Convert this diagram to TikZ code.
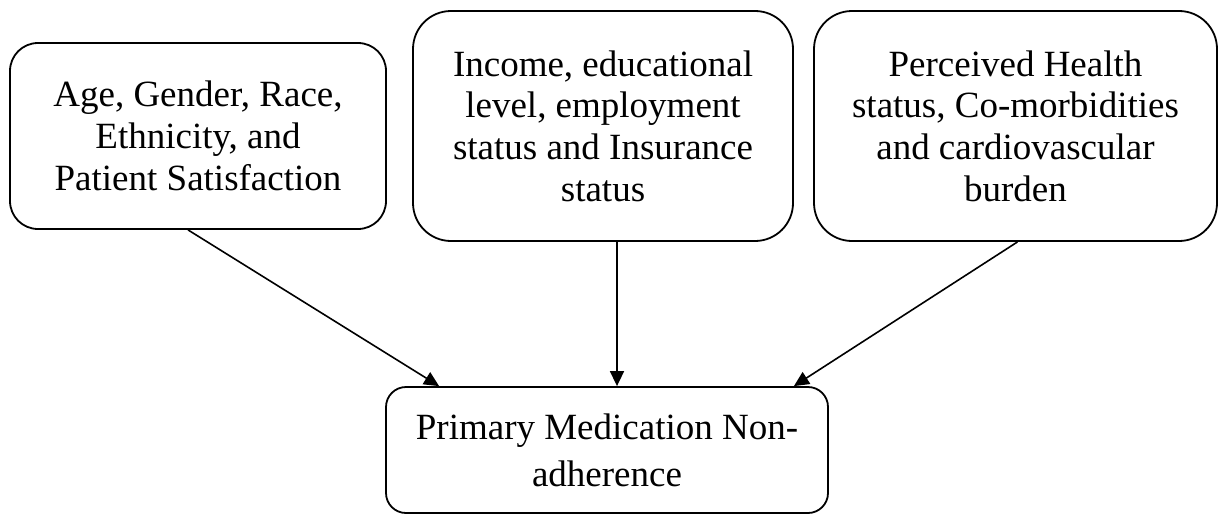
\documentclass[tikz,border=0pt]{standalone}
\usepackage{fontspec}
\setmainfont{Liberation Serif}
\usetikzlibrary{arrows.meta,calc}
\tikzstyle{factor}=[draw,line width=0.9pt,align=center,inner sep=0pt,font=\fontsize{18.5}{20.85}\selectfont]
\tikzstyle{edge} = [draw,line width=0.8pt,-{Triangle[length=7.5pt,width=7pt]}]

\begin{document}
\begin{tikzpicture}[x=0.5pt,y=-0.5pt]
    \useasboundingbox (0,0) rectangle (1219,514);
    % First we draw the three groups of factors
    \foreach \pos/ \name/ \w/ \h/ \r/ \txt in {
        {(198,136)/age/188pt/93pt/14pt/Age, Gender, Race,\\Ethnicity, and\\Patient Satisfaction},
        {(603,126)/income/190pt/115pt/19pt/Income, educational\\level, employment\\status and Insurance\\status},
        {(1015.5,126)/health/201.5pt/115pt/19pt/Perceived Health\\status, Co-morbidities\\and cardiovascular\\burden}}
        \node[factor,minimum width=\w,minimum height=\h,rounded corners=\r] (\name) at \pos {\txt};

    % Then the outcome
    \node[factor,font=\fontsize{18.5}{23.5}\selectfont,minimum width=221pt,minimum height=63pt,rounded corners=10pt] (outcome) at (607,450) {Primary Medication Non-\\adherence};

    % Connect factors with the outcome
    \path[edge] ([xshift=-5pt]age.south) -- ([xshift=27pt]outcome.north west);
    \path[edge] ([xshift=7pt]income.south) -- ([xshift=5pt]outcome.north);
    \path[edge] ([xshift=1pt]health.south) -- ([xshift=-17.5pt]outcome.north east);
\end{tikzpicture}
\end{document}
